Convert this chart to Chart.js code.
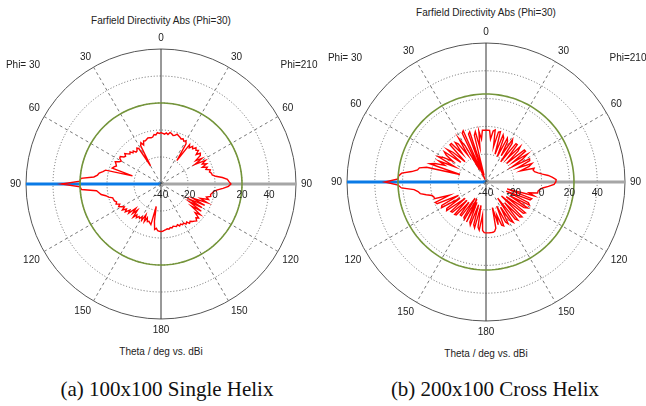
<!DOCTYPE html>
<html lang="en">
<head>
<meta charset="UTF-8">
<title>Farfield Directivity</title>
<script src="https://cdn.jsdelivr.net/npm/chart.js@4.4.1/dist/chart.umd.min.js"></script>
<style>
  body { margin: 0; background: #fff; }
  #wrap { position: relative; width: 646px; height: 406px; background: #fff; overflow: hidden; }
  canvas { position: absolute; }
  .t { position: absolute; transform: translate(-50%, -50%); white-space: nowrap;
       font: 10px "Liberation Sans", Arial, sans-serif; color: #222; }
  .cap { position: absolute; transform: translate(-50%, -50%); white-space: nowrap;
         font: 21px "Liberation Serif", "Times New Roman", serif; color: #111; }
</style>
</head>
<body>
<div id="wrap">
  <canvas id="left" width="323" height="305" style="left:0;top:32px"></canvas>
  <canvas id="right" width="313" height="313" style="left:330px;top:26px"></canvas>

  <div class="t" style="left:161px;top:20px">Farfield Directivity Abs (Phi=30)</div>
  <div class="t" style="left:23px;top:64px">Phi= 30</div>
  <div class="t" style="left:299px;top:64px">Phi=210</div>
  <div class="t" style="left:161px;top:351px">Theta / deg vs. dBi</div>

  <div class="t" style="left:486px;top:12px">Farfield Directivity Abs (Phi=30)</div>
  <div class="t" style="left:345px;top:57px">Phi= 30</div>
  <div class="t" style="left:628px;top:57px">Phi=210</div>
  <div class="t" style="left:486px;top:353px">Theta / deg vs. dBi</div>

  <div class="cap" style="left:167px;top:389px">(a) 100x100 Single Helix</div>
  <div class="cap" style="left:495px;top:389px">(b) 200x100 Cross Helix</div>
</div>

<script>
    // theta sampled every 2 degrees, clockwise from the top
    const thetaSteps = Array.from({ length: 180 }, (_, i) => i * 2);
    const thetaLabels = [0, 30, 60, 90, 120, 150, 180, 150, 120, 90, 60, 30];
    const radialTicks = [-40, -20, 0, 20, 40];

    // directivity in dBi, (a) 100x100 single helix
    const singleHelix = [
        -2, -2.5, -3, -2, -3, -1.2, -2, -3, -2.5, -1.2,
        -2, -2.6, -3.5, -2.7, -4, -3, -5, -19, -4, -6,
        -3.5, -5, -2.7, -4, -2.7, -6, -3, -4, -9, -4.3,
        -11, -2.7, -6, -3, -7, -3.5, -5, -2, -3, -1.8,
        -1.5, 1, 5.7, 9.3, 10.4, 11.8, 10, 6, 2, -0.5,
        -1.5, -2.5, -2, -5, -3, -9, -3, -14, -4, -16,
        -5, -15, -4, -12, -3, -7, -2.5, -4, -2, -3,
        -3.8, -5, -4, -6, -5, -6.5, -5.9, -7, -6, -7.5,
        -6.5, -7, -7.4, -6.5, -7, -6, -6.5, -6, -5.5, -5,
        -4.8, -5, -5.3, -7, -6, -12, -23, -9, -10, -11,
        -10.4, -13, -9.6, -14.5, -9.6, -12, -10, -11, -9, -11,
        -8, -14, -9.8, -14, -7.8, -10, -6.5, -8.4, -5.5, -8,
        -6.4, -4.5, -6, -3.6, -4.5, -3.3, -3, -2.8, 0, 1.8,
        5, 6.4, 8, 19, 20, 33.7, 20, 19.5, 10, 7.5,
        6.5, 4, 2.3, -18, -2, -3, -4.4, -3.5, -2.3, -5,
        -6, -4, -3.6, -6, -6.7, -5, -6.7, -8, -7, -9,
        -8, -10, -9.8, -8, -9, -24.5, -8, -6, -8.4, -5.6,
        -6, -5.3, -4.5, -4.7, -5, -4.7, -3, -3.5, -1.8, -2.5
    ];

    // directivity in dBi, (b) 200x100 cross helix
    const crossHelix = [
        -2.7, -2.7, -2.8, -9, -3, -2, -14, -3, -2.3, -19,
        -4, -6, -20, -5, -7, -18, -4, -6.5, -22, -5,
        -5, -17, -4.5, -8, -20, -4, -3.9, -16, -4, -9,
        -18, -4.5, -5, -15, -4.4, -7, -14, -4, -5, -4.3,
        -2, 1, 5, 8, 10.5, 10.2, 9, 5, 1, -1,
        -2, -2, -8, -4, -24, -5, -5.7, -24, -6, -4.6,
        -20, -4.6, -7, -22, -4, -5, -25, -3.9, -5, -20,
        -4.2, -6, -25.7, -5, -7, -19, -6, -8, -21, -6,
        -7, -15, -8, -21, -6, -4, -3.5, -3.4, -3.4, -3.4,
        -3.4, -3.5, -5, -16, -5, -7, -22.8, -6, -8, -22.8,
        -7, -9, -24, -8, -26, -9, -10, -26, -9.9, -9.9,
        -21, -8, -7.5, -21, -7.5, -7, -21, -5, -6, -18,
        -3, -4, -18, -1.5, -0.7, -12, -1, -1, 0, 4,
        8, 9.4, 12, 21, 23.3, 32.8, 23.3, 23, 21, 14,
        10, 9, 4, -20.5, 2.5, -1, -8, -3, -15, -1.1,
        -5, -12, -5.6, -3, -17, -3.5, -8, -19, -2.7, -2.7,
        -14, -4, -6, -16.7, -3, -10, -30, -1, 0.3, -38,
        -3.2, -2, -35, -5.4, -3, -15, -3, -9, -2.7, -2.7
    ];

    // level of the green reference circle
    const singleRing = 20;
    const crossRing = 23.3;

    const FONT = '"Liberation Sans", Arial, sans-serif';

    const tickLabels = {
        id: 'tickLabels',
        afterDatasetsDraw(chart) {
            const s = chart.scales.r;
            const c = chart.ctx;
            c.save();
            c.font = '10px ' + FONT;
            c.fillStyle = '#222';
            c.textAlign = 'center';
            c.textBaseline = 'middle';
            radialTicks.forEach(v => {
                c.fillText(String(v), s.xCenter + s.getDistanceFromCenterForValue(v), s.yCenter + 11);
            });
            c.restore();
        }
    };

    function polar(id, values, ring) {
        new Chart(document.getElementById(id), {
            type: 'radar',
            data: {
                labels: thetaSteps,
                datasets: [{
                    data: thetaSteps.map(() => ring),
                    borderColor: '#74953a',
                    borderWidth: 1.6,
                    pointRadius: 0,
                    fill: false
                }, {
                    data: values,
                    borderColor: '#ff0000',
                    borderWidth: 1.4,
                    pointRadius: 0,
                    fill: false,
                    tension: 0
                }]
            },
            options: {
                responsive: false,
                animation: false,
                devicePixelRatio: 1,
                layout: { padding: 0 },
                plugins: { legend: { display: false }, tooltip: { enabled: false } },
                elements: { line: { tension: 0 } },
                scales: {
                    r: {
                        min: -40,
                        max: 60,
                        ticks: { display: false, stepSize: 20 },
                        grid: {
                            circular: true,
                            color: ctx => ctx.index === 5 ? '#555' : '#666',
                            lineWidth: 1
                        },
                        border: { dash: ctx => ctx.index === 5 ? [] : [1, 2] },
                        angleLines: {
                            color: ctx => {
                                if (ctx.index === 135) return '#0a7ae6';
                                if (ctx.index === 45) return '#a6a6a6';
                                if (ctx.index === 0 || ctx.index === 90) return '#333';
                                return '#777';
                            },
                            lineWidth: ctx => {
                                if (ctx.index % 15 !== 0) return 0;
                                return (ctx.index === 45 || ctx.index === 135) ? 3 : 1;
                            },
                            borderDash: ctx => (ctx.index % 45 === 0) ? [] : [3, 3]
                        },
                        pointLabels: {
                            font: { family: FONT, size: 10 },
                            color: '#222',
                            padding: 5,
                            callback: (label, i) => i % 15 === 0 ? String(thetaLabels[i / 15]) : ''
                        }
                    }
                }
            },
            plugins: [tickLabels]
        });
    }

    polar('left', singleHelix, singleRing);
    polar('right', crossHelix, crossRing);
</script>
</body>
</html>
